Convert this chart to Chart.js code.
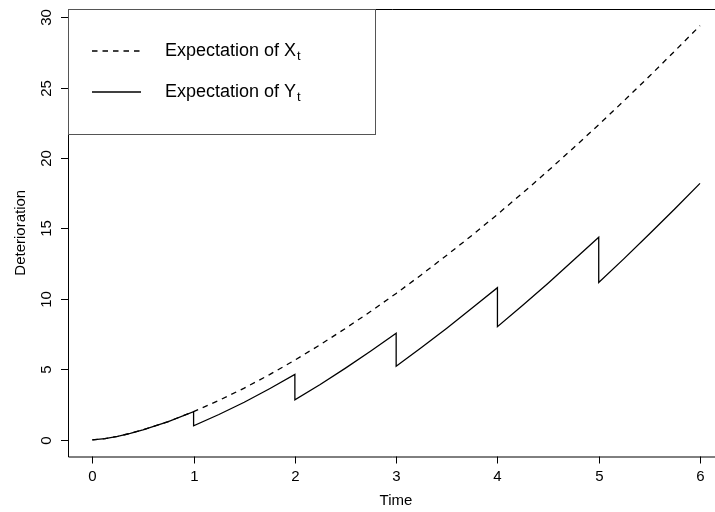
<!DOCTYPE html>
<html>
<head>
<meta charset="utf-8">
<script src="https://cdn.jsdelivr.net/npm/chart.js@4.4.1/dist/chart.umd.min.js"></script>
<style>
  html, body { margin: 0; padding: 0; background: #fff; overflow: hidden; }
  #wrap { width: 715px; height: 512px; }
</style>
</head>
<body>
<div id="wrap"><canvas id="grafica" width="715" height="512"></canvas></div>
<script>
// valores
const tiemposX = [0, 0.125, 0.25, 0.375, 0.5, 0.75, 1, 1.25, 1.5, 1.75, 2, 2.25, 2.5, 2.75, 3,
  3.25, 3.5, 3.75, 4, 4.25, 4.5, 4.75, 5, 5.25, 5.5, 5.75, 6];
const esperanzaX = [0, 0.09, 0.25, 0.46, 0.71, 1.30, 2.00, 2.80, 3.67, 4.63, 5.66, 6.75, 7.91, 9.12, 10.39,
  11.72, 13.10, 14.52, 16.00, 17.52, 19.09, 20.71, 22.36, 24.06, 25.80, 27.58, 29.39];

const tiemposY = [0, 0.125, 0.25, 0.375, 0.5, 0.75, 1, 1, 1.25, 1.5, 1.75, 2, 2, 2.25, 2.5, 2.75, 3, 3,
  3.25, 3.5, 3.75, 4, 4, 4.25, 4.5, 4.75, 5, 5, 5.25, 5.5, 5.75, 6];
const esperanzaY = [0, 0.09, 0.25, 0.46, 0.71, 1.30, 2.00, 1.00, 1.80, 2.67, 3.63, 4.64, 2.84, 3.93, 5.09, 6.30, 7.56, 5.22,
  6.55, 7.92, 9.35, 10.80, 8.03, 9.55, 11.12, 12.74, 14.38, 11.16, 12.86, 14.60, 16.38, 18.20];

const ticksX = [0, 1, 2, 3, 4, 5, 6];
const ticksY = [0, 5, 10, 15, 20, 25, 30];
const etiquetasLeyenda = ["Expectation of X", "Expectation of Y"];
const subindiceLeyenda = "t";
const tituloX = "Time";
const tituloY = "Deterioration";

const fuente = '"Liberation Sans", Arial, sans-serif';

// ejes al estilo de R, dibujados con las escalas de Chart.js
const ejesR = {
  id: "ejesR",
  afterDraw(chart) {
    const ctx = chart.ctx;
    const area = chart.chartArea;
    const sx = chart.scales.x;
    const sy = chart.scales.y;
    ctx.save();
    ctx.strokeStyle = "#000";
    ctx.fillStyle = "#000";
    ctx.lineWidth = 1;

    // caja (el borde derecho queda fuera de la imagen)
    ctx.beginPath();
    ctx.moveTo(area.right + 20, area.top + 0.5);
    ctx.lineTo(area.left + 0.5, area.top + 0.5);
    ctx.lineTo(area.left + 0.5, area.bottom + 0.5);
    ctx.lineTo(area.right + 20, area.bottom + 0.5);
    ctx.stroke();

    // eje x
    ctx.font = "15px " + fuente;
    ctx.textAlign = "center";
    ctx.textBaseline = "middle";
    ticksX.forEach(v => {
      const px = Math.round(sx.getPixelForValue(v)) + 0.5;
      ctx.beginPath();
      ctx.moveTo(px, area.bottom);
      ctx.lineTo(px, area.bottom + 7);
      ctx.stroke();
      ctx.fillText(String(v), px, area.bottom + 20);
    });
    ctx.fillText(tituloX, (area.left + sx.getPixelForValue(ticksX[ticksX.length - 1]) + 24) / 2, 501);

    // eje y
    ticksY.forEach(v => {
      const py = Math.round(sy.getPixelForValue(v)) + 0.5;
      ctx.beginPath();
      ctx.moveTo(area.left - 7, py);
      ctx.lineTo(area.left, py);
      ctx.stroke();
      ctx.save();
      ctx.translate(area.left - 21, py);
      ctx.rotate(-Math.PI / 2);
      ctx.fillText(String(v), 0, 0);
      ctx.restore();
    });
    ctx.save();
    ctx.translate(21, (area.top + area.bottom) / 2);
    ctx.rotate(-Math.PI / 2);
    ctx.fillText(tituloY, 0, 0);
    ctx.restore();

    // leyenda
    const lx = area.left + 0.5;
    const ly = area.top + 0.5;
    ctx.fillStyle = "#fff";
    ctx.fillRect(lx, ly, 307, 125);
    ctx.strokeStyle = "#555";
    ctx.strokeRect(lx, ly, 307, 125);
    ctx.strokeStyle = "#000";
    ctx.fillStyle = "#000";
    const filas = [51, 92];
    chart.data.datasets.forEach((ds, i) => {
      const y = filas[i];
      ctx.lineWidth = ds.borderWidth;
      ctx.setLineDash(ds.borderDash || []);
      ctx.beginPath();
      ctx.moveTo(92, y);
      ctx.lineTo(141, y);
      ctx.stroke();
      ctx.setLineDash([]);
      ctx.font = "18px " + fuente;
      ctx.textAlign = "left";
      ctx.textBaseline = "middle";
      const texto = etiquetasLeyenda[i];
      ctx.fillText(texto, 165, y);
      const w = ctx.measureText(texto).width;
      ctx.font = "13px " + fuente;
      ctx.fillText(subindiceLeyenda, 165 + w + 1, y + 5);
    });
    ctx.restore();
  }
};

new Chart(document.getElementById("grafica"), {
  type: "line",
  data: {
    datasets: [{
      label: etiquetasLeyenda[0],
      data: tiemposX.map((t, i) => ({ x: t, y: esperanzaX[i] })),
      borderColor: "#000",
      borderWidth: 1.3,
      borderDash: [5.5, 5],
      pointRadius: 0,
      tension: 0,
      fill: false
    }, {
      label: etiquetasLeyenda[1],
      data: tiemposY.map((t, i) => ({ x: t, y: esperanzaY[i] })),
      borderColor: "#000",
      borderWidth: 1.3,
      pointRadius: 0,
      tension: 0,
      fill: false
    }]
  },
  options: {
    responsive: false,
    animation: false,
    layout: { padding: { left: 68, top: 9, right: 0, bottom: 55.5 } },
    plugins: {
      legend: { display: false },
      tooltip: { enabled: false }
    },
    scales: {
      x: { type: "linear", min: -0.24, max: 6.148, display: false },
      y: { type: "linear", min: -1.18, max: 30.57, display: false }
    }
  },
  plugins: [ejesR]
});
</script>
</body>
</html>
